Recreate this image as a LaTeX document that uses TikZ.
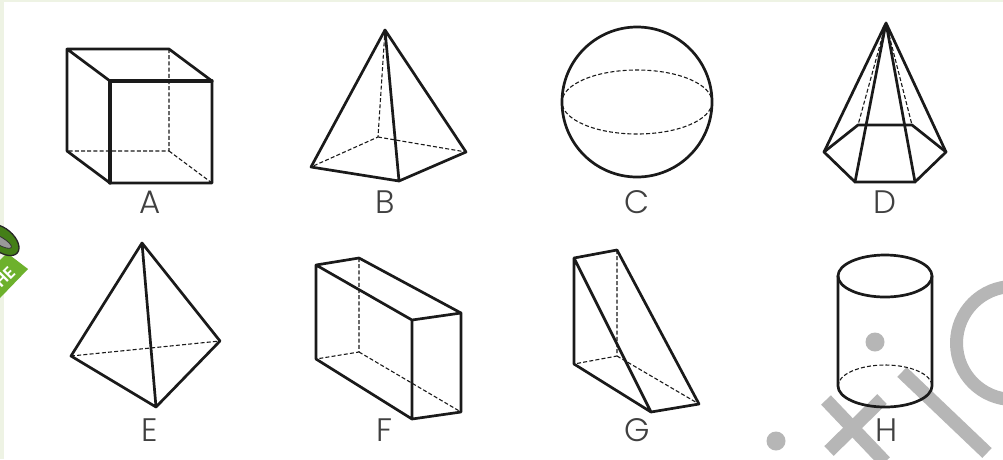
\documentclass[tikz,border=0pt]{standalone}
\usepackage{fontspec}
\setmainfont{Poppins Light}
\definecolor{edgeblack}{HTML}{1A1A1A}
\definecolor{wm}{HTML}{B6B6B6}
\definecolor{pale}{HTML}{EEF3E4}
\definecolor{badge}{HTML}{6DB12C}
\definecolor{ringg}{HTML}{447F18}
\tikzset{
  solidedge/.style={draw=edgeblack,line width=2.7pt,line join=round,line cap=round},
  hidden/.style={draw=edgeblack,line width=1.1pt,dash pattern=on 4pt off 2.2pt},
  wmline/.style={draw=wm,line width=13.5pt},
  wmdot/.style={fill=wm,circle,inner sep=0pt,minimum size=19pt},
  lab/.style={font=\fontsize{32.5}{33}\selectfont,text=black!75,inner sep=0pt,anchor=base},
}
\begin{document}
\begin{tikzpicture}[x=1pt,y=-1pt]
\useasboundingbox (0,0) rectangle (1003,459);
\clip (0,0) rectangle (1003,459);
\fill[white] (0,0) rectangle (1003,459);
\fill[pale] (0,0) rectangle (1003,2);
\fill[pale] (0,0) rectangle (3.5,459);
% badge
\fill[badge] (7,253) -- (28,269) -- (0,298) -- (-20,280) -- cycle;
\node[rotate=45,text=white,font=\fontsize{17}{17}\selectfont\bfseries,inner sep=0pt] (badgetext) at (5,277) {HE};
\filldraw[fill=ringg,draw=black!85,line width=1.3pt,rotate around={-40:(2,240)}] (2,240) ellipse (20 and 11.5);
\filldraw[fill=black!40,draw=black!80,line width=0.8pt,rotate around={-30:(0,241)}] (0,241) ellipse (13 and 4);
% watermark
\node[wmdot] (w1) at (875,342) {};
\node[wmdot] (w2) at (776,441) {};
\coordinate (x1a) at (826,400); \coordinate (x1b) at (885,462);
\coordinate (x2a) at (882,399); \coordinate (x2b) at (829,451);
\coordinate (i1a) at (902,372); \coordinate (i1b) at (987,453);
\draw[wmline] (x1a) -- (x1b);
\draw[wmline] (x2a) -- (x2b);
\draw[wmline] (i1a) -- (i1b);
\draw[draw=wm,line width=13pt] (1013,343) circle (56.5);
% A
\coordinate (a1) at (67,49); \coordinate (a2) at (169,49); \coordinate (a3) at (110,81); \coordinate (a4) at (212,81);
\coordinate (a5) at (110,183); \coordinate (a6) at (212,183); \coordinate (a7) at (67,151); \coordinate (a8) at (169,151);
\draw[hidden] (a2) -- (a8) -- (a7) (a8) -- (a6);
\draw[solidedge] (a3) -- (a1) -- (a2) -- (a4) -- (a6) -- (a5) -- (a7) -- (a1);
\draw[solidedge,line width=3.2pt] (a5) -- (a3) -- (a4);
\node[lab] (la) at (150,213.5) {A};
% B
\coordinate (b1) at (385,30); \coordinate (b2) at (311,167); \coordinate (b3) at (399,181); \coordinate (b4) at (466,152); \coordinate (b5) at (378,137);
\draw[hidden] (b1) -- (b5) -- (b2) (b5) -- (b4);
\draw[solidedge] (b1) -- (b2) -- (b3) -- (b4) -- cycle (b1) -- (b3);
\node[lab] (lb) at (385,213.5) {B};
% C
\coordinate (c0) at (637,102);
\draw[hidden] (c0) ellipse (75 and 32);
\draw[solidedge] (c0) circle (75);
\node[lab] (lc) at (637,213.5) {C};
% D
\coordinate (d0) at (886,23); \coordinate (d1) at (824,152); \coordinate (d2) at (855,182); \coordinate (d3) at (915,182);
\coordinate (d4) at (946,152); \coordinate (d5) at (912,125); \coordinate (d6) at (858,125);
\draw[hidden] (d0) -- (d5) (d0) -- (d6);
\draw[solidedge] (d1) -- (d2) -- (d3) -- (d4) -- (d5) -- (d6) -- cycle;
\draw[solidedge] (d0) -- (d1) (d0) -- (d2) (d0) -- (d3) (d0) -- (d4);
\node[lab] (ld) at (885,213.5) {D};
% E
\coordinate (e1) at (142,243); \coordinate (e2) at (71,356); \coordinate (e3) at (156,407); \coordinate (e4) at (220,341);
\draw[hidden] (e2) -- (e4);
\draw[solidedge] (e1) -- (e2) -- (e3) -- (e4) -- cycle (e1) -- (e3);
\node[lab] (le) at (150,441) {E};
% F
\coordinate (f1) at (316,265); \coordinate (f2) at (359,258); \coordinate (f3) at (412,320); \coordinate (f4) at (461,313);
\coordinate (f5) at (412,419); \coordinate (f6) at (461,412); \coordinate (f7) at (316,359); \coordinate (f8) at (359,352);
\draw[hidden] (f2) -- (f8) -- (f7) (f8) -- (f6);
\draw[solidedge] (f1) -- (f2) -- (f4) -- (f6) -- (f5) -- (f7) -- cycle (f1) -- (f3) -- (f4) (f3) -- (f5);
\node[lab] (lf) at (385,441) {F};
% G
\coordinate (g1) at (574,258); \coordinate (g2) at (617,250); \coordinate (g3) at (574,364); \coordinate (g4) at (617,356);
\coordinate (g5) at (651,412); \coordinate (g6) at (699,404);
\draw[hidden] (g2) -- (g4) -- (g3) (g4) -- (g6);
\draw[solidedge] (g1) -- (g2) -- (g6) -- (g5) -- (g3) -- cycle (g1) -- (g5);
\node[lab] (lg) at (637,441) {G};
% H
\coordinate (h0) at (885,276); \coordinate (h1) at (885,386);
\draw[solidedge] (h0) ellipse (47 and 21);
\draw[solidedge] (838,276) -- (838,386) arc[start angle=180,end angle=360,x radius=47,y radius=-21] -- (932,276);
\draw[hidden] (838,386) arc[start angle=180,end angle=0,x radius=47,y radius=-21];
\node[lab] (lh) at (887,441) {H};
\end{tikzpicture}
\end{document}
